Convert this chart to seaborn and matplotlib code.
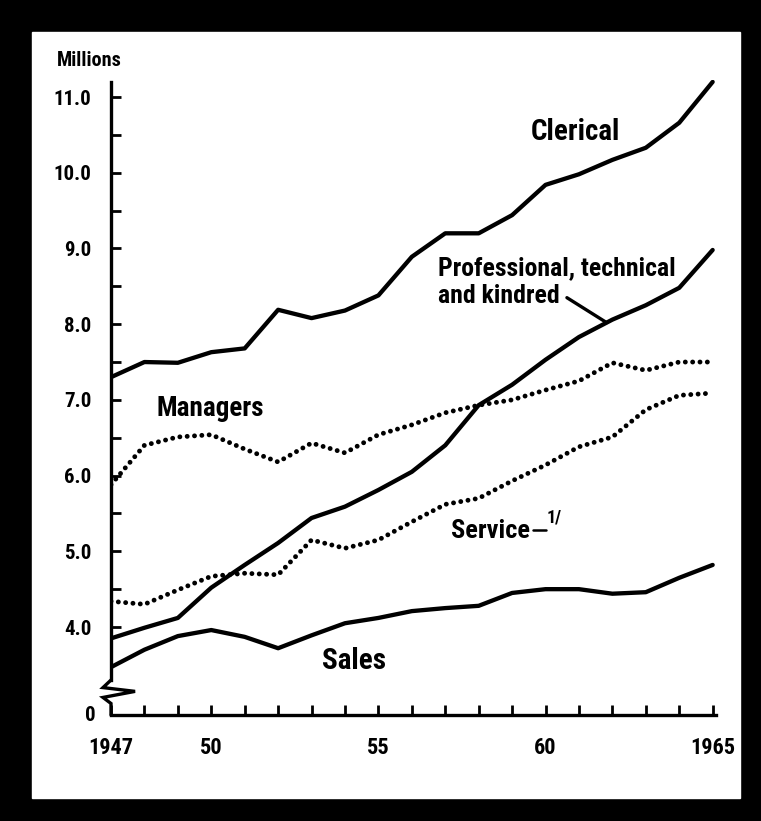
import pandas as pd
import seaborn as sns
import matplotlib
matplotlib.use('Agg')
import matplotlib.pyplot as plt
from matplotlib.lines import Line2D

years = list(range(1947, 1966))
clerical = [7.30, 7.50, 7.49, 7.63, 7.68, 8.19, 8.08, 8.18, 8.38, 8.89,
            9.20, 9.20, 9.44, 9.84, 9.98, 10.17, 10.33, 10.66, 11.20]
professional = [3.85, 3.99, 4.12, 4.52, 4.82, 5.11, 5.44, 5.59, 5.81, 6.05,
                6.40, 6.93, 7.20, 7.53, 7.83, 8.06, 8.25, 8.48, 8.98]
managers = [5.88, 6.40, 6.51, 6.54, 6.35, 6.18, 6.43, 6.30, 6.54, 6.67,
            6.83, 6.93, 7.00, 7.13, 7.25, 7.49, 7.39, 7.50, 7.50]
service = [4.34, 4.30, 4.49, 4.67, 4.71, 4.69, 5.15, 5.04, 5.15, 5.39,
           5.62, 5.70, 5.93, 6.14, 6.38, 6.51, 6.87, 7.06, 7.09]
sales = [3.47, 3.70, 3.88, 3.96, 3.87, 3.72, 3.89, 4.05, 4.12, 4.21,
         4.25, 4.28, 4.45, 4.50, 4.50, 4.44, 4.46, 4.65, 4.82]

ytick_vals = [4, 5, 6, 7, 8, 9, 10, 11]
ytick_labels = ["4.0", "5.0", "6.0", "7.0", "8.0", "9.0", "10.0", "11.0"]
xtick_vals = [1947, 1950, 1955, 1960, 1965]
xtick_labels = ["1947", "50", "55", "60", "1965"]

sns.set_theme(style="ticks")
plt.rcParams['font.family'] = ['Liberation Sans Narrow', 'Roboto Condensed', 'DejaVu Sans']
plt.rcParams['font.weight'] = 'bold'

W, H = 761, 821
fig = plt.figure(figsize=(W / 100, H / 100), dpi=100)
fig.patch.set_facecolor('black')
# white paper inside the black frame
fig.add_artist(plt.Rectangle((32 / W, (H - 798) / H), (740 - 32) / W, (798 - 32) / H,
                             transform=fig.transFigure, color='white', zorder=-1))

ax = fig.add_axes([111 / W, 106 / H, 605 / W, 635 / H])
ax.set_facecolor('white')

df = pd.DataFrame({"year": years, "Clerical": clerical, "Professional": professional,
                   "Managers": managers, "Service": service, "Sales": sales})

solid = dict(color='black', lw=3.1, solid_capstyle='round', solid_joinstyle='round')
dotted = dict(color='black', lw=3.5, linestyle=(0, (0.01, 1.5)), dash_capstyle='round')

for col in ["Clerical", "Professional", "Sales"]:
    sns.lineplot(data=df, x="year", y=col, ax=ax, **solid)
for col in ["Managers", "Service"]:
    sns.lineplot(data=df, x="year", y=col, ax=ax, **dotted)

y0 = 2.838
ax.set_xlim(1947, 1965.1)
ax.set_ylim(y0, 11.225)
ax.set_xlabel("")
ax.set_ylabel("")

ax.set_yticks(ytick_vals)
ax.set_yticklabels(ytick_labels)
ax.set_yticks([v + 0.5 for v in ytick_vals[:-1]], minor=True)
ax.set_xticks(xtick_vals)
ax.set_xticklabels(xtick_labels)
ax.set_xticks(years, minor=True)

ax.tick_params(axis='both', which='both', direction='in', length=7, width=2,
               color='black', labelcolor='black')
ax.tick_params(axis='y', labelsize=15, pad=14)
ax.tick_params(axis='x', labelsize=16, pad=16)

for side in ['top', 'right']:
    ax.spines[side].set_visible(False)
for side in ['left', 'bottom']:
    ax.spines[side].set_color('black')
    ax.spines[side].set_linewidth(2.4)
ax.spines['left'].set_bounds(3.30, 11.2)

# axis break on the y axis
bx = [1947, 1946.76, 1947.72, 1946.76, 1947, 1947]
by = [3.30, 3.20, 3.15, 3.07, 2.99, y0]
ax.add_line(Line2D(bx, by, color='black', lw=2.4, clip_on=False, solid_joinstyle='miter'))

ax.text(-0.025, y0, "0", transform=ax.get_yaxis_transform(), ha='right', va='center',
        fontsize=15, fontweight='bold', color='black')

lab = dict(color='black', fontweight='bold')
ax.text(1960.9, 10.54, "Clerical", ha='center', va='center', fontsize=21, **lab)
ax.text(1956.78, 8.74, "Professional, technical", ha='left', va='center', fontsize=18.5, **lab)
ax.text(1956.78, 8.37, "and kindred", ha='left', va='center', fontsize=18.5, **lab)
ax.plot([1960.64, 1961.83], [8.35, 8.02], color='black', lw=2.4)
ax.text(1949.96, 6.89, "Managers", ha='center', va='center', fontsize=19.5, **lab)
ax.text(1958.36, 5.27, "Service", ha='center', va='center', fontsize=19, **lab)
ax.text(1960.25, 5.45, "1/", ha='center', va='center', fontsize=13, **lab)
ax.plot([1959.62, 1960.0], [5.28, 5.28], color='black', lw=1.8)
ax.text(1954.27, 3.55, "Sales", ha='center', va='center', fontsize=21, **lab)

fig.text(57 / W, (H - 61) / H, "Millions", ha='left', va='center',
         fontsize=14.5, **lab)

plt.savefig("out.png", dpi=100, facecolor=fig.get_facecolor())
plt.close('all')
